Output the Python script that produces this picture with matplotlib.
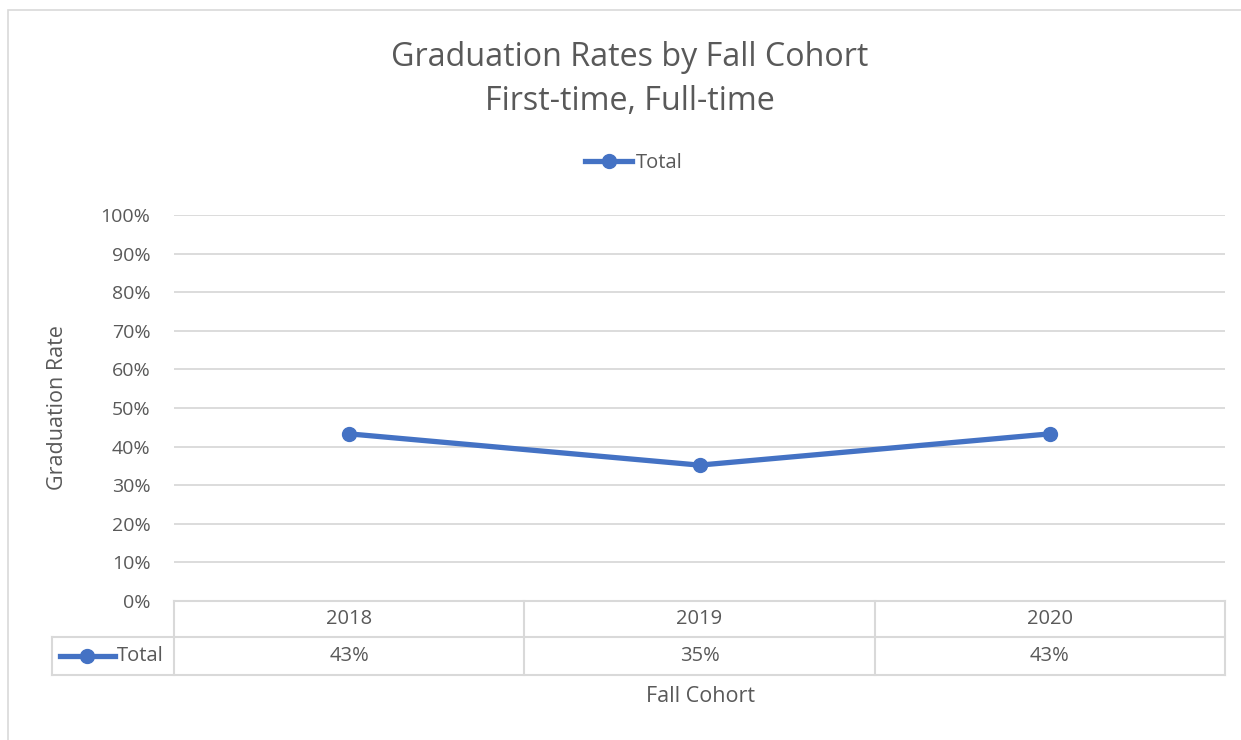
import matplotlib.pyplot as plt
from matplotlib.lines import Line2D
from matplotlib.patches import Rectangle

cohorts = ['2018', '2019', '2020']
rates = [0.433, 0.352, 0.433]
table_labels = ['43%', '35%', '43%']
yticks = [0, 0.1, 0.2, 0.3, 0.4, 0.5, 0.6, 0.7, 0.8, 0.9, 1.0]

blue = '#4472C4'
grey_txt = '#595959'
grid_c = '#D9D9D9'

plt.rcParams['font.family'] = ['Open Sans', 'DejaVu Sans']

fig = plt.figure(figsize=(12.41, 7.40), dpi=100)
W, H = 1241, 740
ax = fig.add_axes([174 / W, (H - 601) / H, (1225 - 174) / W, (601 - 215) / H])

# chart border
fig.patches.append(Rectangle((8 / W, -0.1), 1.2, (H - 10) / H + 0.1,
                             transform=fig.transFigure, fill=False,
                             edgecolor='#D9D9D9', linewidth=1.2))

x = list(range(len(cohorts)))
ax.plot(x, rates, '-o', color=blue, linewidth=3.8, markersize=10, zorder=3)

ax.set_xlim(-0.5, len(cohorts) - 0.5)
ax.set_ylim(0, 1)
ax.set_yticks(yticks)
ax.set_yticklabels([f'{int(round(t * 100))}%' for t in yticks])
ax.tick_params(axis='y', length=0, pad=17, labelsize=14, labelcolor=grey_txt)
ax.set_xticks([])
for s in ax.spines.values():
    s.set_visible(False)
ax.grid(True, axis='y', color=grid_c, linewidth=1.3)
ax.set_axisbelow(True)

# data table under the plot
r1 = -36 / 386
r2 = -74 / 386
lx = (52 - 174) / 1051
kw = dict(color=grid_c, linewidth=1.5, clip_on=False, transform=ax.transAxes)
ax.add_line(Line2D([0, 1], [0, 0], **kw))
ax.add_line(Line2D([lx, 1], [r1, r1], **kw))
ax.add_line(Line2D([lx, 1], [r2, r2], **kw))
ax.add_line(Line2D([lx, lx], [r1, r2], **kw))
for i in range(len(cohorts) + 1):
    xv = i / len(cohorts)
    ax.add_line(Line2D([xv, xv], [0, r2], **kw))

tr = ax.get_xaxis_transform()
for i, (c, v) in enumerate(zip(cohorts, table_labels)):
    ax.text(i, r1 / 2, c, transform=tr, ha='center', va='center',
            fontsize=14.5, color=grey_txt)
    ax.text(i, (r1 + r2) / 2, v, transform=tr, ha='center', va='center',
            fontsize=14.5, color=grey_txt)

# legend key in the table
ym = (r1 + r2) / 2
ax.add_line(Line2D([(60 - 174) / 1051, (115 - 174) / 1051], [ym, ym], color=blue,
                   linewidth=3.8, clip_on=False, transform=ax.transAxes))
ax.add_line(Line2D([(87 - 174) / 1051], [ym], marker='o', markersize=10, color=blue,
                   clip_on=False, transform=ax.transAxes))
ax.text((117 - 174) / 1051, ym, 'Total', transform=ax.transAxes, ha='left', va='center',
        fontsize=14.5, color=grey_txt)

fig.text(700 / W, 1 - 696 / H, 'Fall Cohort', ha='center', va='center',
         fontsize=15.5, color=grey_txt)
fig.text(58 / W, 1 - 408 / H, 'Graduation Rate', ha='center', va='center',
         rotation=90, fontsize=15.5, color=grey_txt)

fig.text(630 / W, 1 - 57 / H, 'Graduation Rates by Fall Cohort', ha='center',
         va='center', fontsize=23.2, color=grey_txt)
fig.text(630 / W, 1 - 102 / H, 'First-time, Full-time', ha='center',
         va='center', fontsize=23.2, color=grey_txt)

# top legend
leg = fig.legend(handles=[Line2D([], [], color=blue, linewidth=3.8, marker='o',
                                 markersize=10)],
                 labels=['Total'], loc='center', bbox_to_anchor=(634 / W, 1 - 163 / H),
                 frameon=False, fontsize=14.5, handlelength=2.3, handletextpad=0.2)
for t in leg.get_texts():
    t.set_color(grey_txt)

fig.savefig('out.png', dpi=100)
